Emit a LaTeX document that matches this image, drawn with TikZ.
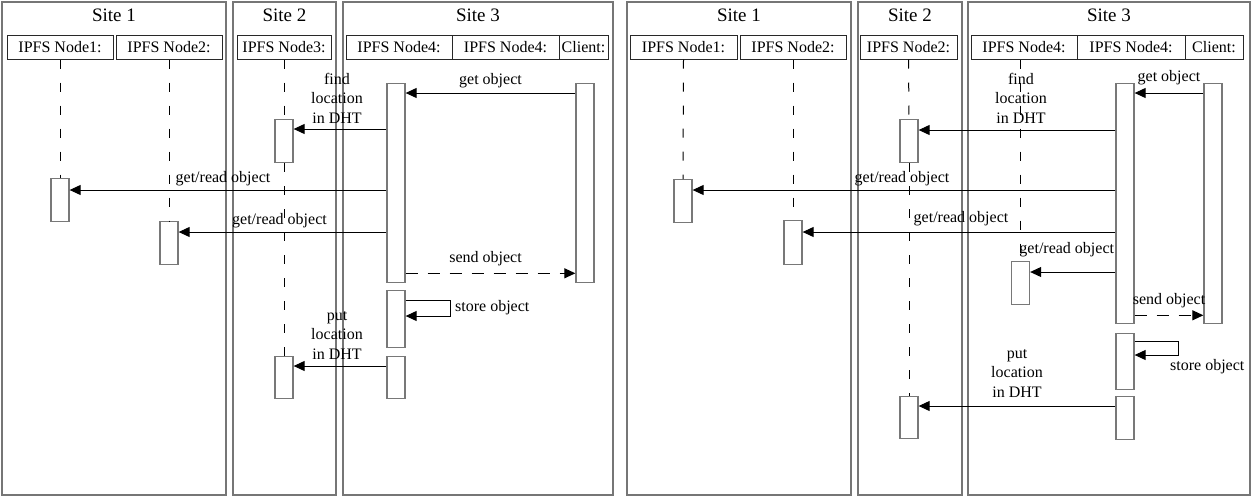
\documentclass[tikz,border=0pt]{standalone}
\usepackage{fontspec}
\setmainfont{Liberation Serif}
\usepackage{tikz}
\usetikzlibrary{arrows.meta, positioning}
\usepackage{xcolor}
\definecolor{sqframe}{RGB}{118,118,118}
\definecolor{sqbar}{RGB}{120,120,120}
\definecolor{sqline}{RGB}{40,40,40}
\newcommand{\lblfont}{\fontsize{16pt}{19.5pt}\selectfont}
\newcommand{\sitefont}{\fontsize{19pt}{22pt}\selectfont}
\tikzset{
    site/.style={draw=sqframe, line width=2pt, anchor=north west, inner sep=0pt, minimum height=493pt},
    sitetitle/.style={font=\sitefont, inner sep=0pt},
    head/.style={draw=sqline, line width=1pt, font=\lblfont, inner sep=0pt, minimum height=24pt},
    bar/.style={draw=sqbar, line width=1.3pt, fill=white, anchor=north, inner sep=0pt, minimum width=18pt},
    life/.style={draw=black, line width=1pt, dash pattern=on 9pt off 14pt},
    msg/.style={-{Triangle[length=11pt, width=10pt]}, line width=1pt},
    reply/.style={msg, dash pattern=on 12pt off 10pt},
    lbl/.style={font=\lblfont, align=center, inner sep=1pt},
}

\begin{document}
\begin{tikzpicture}[x=1pt, y=-1pt]
    \fill[white] (0,0) rectangle (1251,496);
    \useasboundingbox (0,0) rectangle (1251,496);

    % left diagram
    \node[site, minimum width=224pt] (s1L) at (1,1) {};
    \node[site, minimum width=103pt] (s2L) at (232,1) {};
    \node[site, minimum width=270pt] (s3L) at (342,1) {};
    \node[sitetitle, below=8pt of s1L.north] (t1L) {Site 1};
    \node[sitetitle, below=8pt of s2L.north] (t2L) {Site 2};
    \node[sitetitle, below=8pt of s3L.north] (t3L) {Site 3};

    \node[head, minimum width=106pt] (h1L) at (60,47) {IPFS Node1:};
    \node[head, minimum width=106pt] (h2L) at (169,47) {IPFS Node2:};
    \node[head, minimum width=94pt] (h3L) at (284,47) {IPFS Node3:};
    \node[head, minimum width=106pt] (h4L) at (399,47) {IPFS Node4:};
    \node[head, minimum width=107pt] (h5L) at (505.5,47) {IPFS Node4:};
    \node[head, minimum width=49pt] (hcL) at (583.5,47) {Client:};

    \node[bar, minimum height=43pt] (b1L) at (60,178) {};
    \node[bar, minimum height=43pt] (b2L) at (169,221) {};
    \node[bar, minimum height=43pt] (b3L1) at (284,119) {};
    \node[bar, minimum height=42pt] (b3L2) at (284,356) {};
    \node[bar, minimum height=199pt] (b4L1) at (396,83) {};
    \node[bar, minimum height=57pt] (b4L2) at (396,290) {};
    \node[bar, minimum height=42pt] (b4L3) at (396,356) {};
    \node[bar, minimum height=199pt] (bcL) at (585,83) {};

    \draw[life] (h1L.south) -- (b1L.north);
    \draw[life] (h2L.south) -- (b2L.north);
    \draw[life] (h3L.south) -- (b3L1.north);
    \draw[life] (b3L1.south) -- (b3L2.north);

    \draw[msg] ([yshift=-10pt]bcL.north west) -- node[lbl, above, yshift=3.5pt] {get object} ([yshift=-10pt]b4L1.north east);
    \draw[msg] ([yshift=-10pt]b4L1.west |- b3L1.north) -- node[lbl, above, yshift=4pt, xshift=-3pt] {find\\location\\in DHT} ([yshift=-10pt]b3L1.north east);
    \draw[msg] ([yshift=-12pt]b4L1.west |- b1L.north) -- node[lbl, above, yshift=3pt, xshift=-5pt] {get/read object} ([yshift=-12pt]b1L.north east);
    \draw[msg] ([yshift=-11pt]b4L1.west |- b2L.north) -- node[lbl, above, yshift=3pt, xshift=-3pt] {get/read object} ([yshift=-11pt]b2L.north east);
    \draw[reply] ([yshift=10pt]b4L1.south east) -- node[lbl, above, yshift=5.5pt, xshift=-5pt] {send object} ([yshift=10pt]bcL.south west);
    \draw[msg] ([yshift=-10pt]b4L2.north east) -- ++(45,0) |- node[lbl, right, pos=0.25, xshift=3pt] {store object} ([yshift=-26pt]b4L2.north east);
    \draw[msg] ([yshift=-10pt]b4L3.north west) -- node[lbl, above, yshift=5pt, xshift=-3pt] {put\\location\\in DHT} ([yshift=-10pt]b3L2.north east);

    % right diagram
    \node[site, minimum width=224pt] (s1R) at (626,1) {};
    \node[site, minimum width=104pt] (s2R) at (857,1) {};
    \node[site, minimum width=282pt] (s3R) at (967,1) {};
    \node[sitetitle, below=8pt of s1R.north] (t1R) {Site 1};
    \node[sitetitle, below=8pt of s2R.north] (t2R) {Site 2};
    \node[sitetitle, below=8pt of s3R.north] (t3R) {Site 3};

    \node[head, minimum width=107pt] (h1R) at (683.5,47) {IPFS Node1:};
    \node[head, minimum width=106pt] (h2R) at (793,47) {IPFS Node2:};
    \node[head, minimum width=97pt] (h3R) at (908.5,47) {IPFS Node2:};
    \node[head, minimum width=106pt] (h4R) at (1024,47) {IPFS Node4:};
    \node[head, minimum width=108pt] (h5R) at (1131,47) {IPFS Node4:};
    \node[head, minimum width=58pt] (hcR) at (1214,47) {Client:};

    \node[bar, minimum height=43pt] (b1R) at (683,179) {};
    \node[bar, minimum height=44pt] (b2R) at (793,220) {};
    \node[bar, minimum height=43pt] (b3R1) at (909,119) {};
    \node[bar, minimum height=42pt] (b3R2) at (909,396) {};
    \node[bar, minimum height=43pt] (b4R) at (1020.5,261) {};
    \node[bar, minimum height=240pt] (b5R1) at (1125,83) {};
    \node[bar, minimum height=56pt] (b5R2) at (1125,333) {};
    \node[bar, minimum height=43pt] (b5R3) at (1125,396) {};
    \node[bar, minimum height=240pt] (bcR) at (1213,83) {};

    \draw[life] (h1R.south) -- (b1R.north);
    \draw[life] (h2R.south) -- (b2R.north);
    \draw[life] (h3R.south) -- (b3R1.north);
    \draw[life] (b3R1.south) -- (b3R2.north);
    \draw[life] (h4R.south -| b4R) -- (b4R.north);

    \draw[msg] ([yshift=-10pt]bcR.north west) -- node[lbl, above, yshift=6.5pt] {get object} ([yshift=-10pt]b5R1.north east);
    \draw[msg] ([yshift=-11pt]b5R1.west |- b3R1.north) -- node[lbl, above, yshift=5pt, xshift=4pt] {find\\location\\in DHT} ([yshift=-11pt]b3R1.north east);
    \draw[msg] ([yshift=-11pt]b5R1.west |- b1R.north) -- node[lbl, above, yshift=3pt, xshift=-2pt] {get/read object} ([yshift=-11pt]b1R.north east);
    \draw[msg] ([yshift=-12pt]b5R1.west |- b2R.north) -- node[lbl, above, yshift=4.5pt, xshift=2pt] {get/read object} ([yshift=-12pt]b2R.north east);
    \draw[msg] ([yshift=-11pt]b5R1.west |- b4R.north) -- node[lbl, above, yshift=13.5pt, xshift=-6pt] {get/read object} ([yshift=-11pt]b4R.north east);
    \draw[reply] ([yshift=9pt]b5R1.south east) -- node[lbl, above, yshift=5.5pt] {send object} ([yshift=9pt]bcR.south west);
    \draw[msg] ([yshift=-8pt]b5R2.north east) -- ++(44,0) |- node[lbl, pos=0.5, anchor=north west, xshift=-10pt, yshift=-3pt] {store object} ([yshift=-22pt]b5R2.north east);
    \draw[msg] ([yshift=-10pt]b5R3.north west) -- node[lbl, above, yshift=7pt] {put\\location\\in DHT} ([yshift=-10pt]b3R2.north east);
\end{tikzpicture}
\end{document}
